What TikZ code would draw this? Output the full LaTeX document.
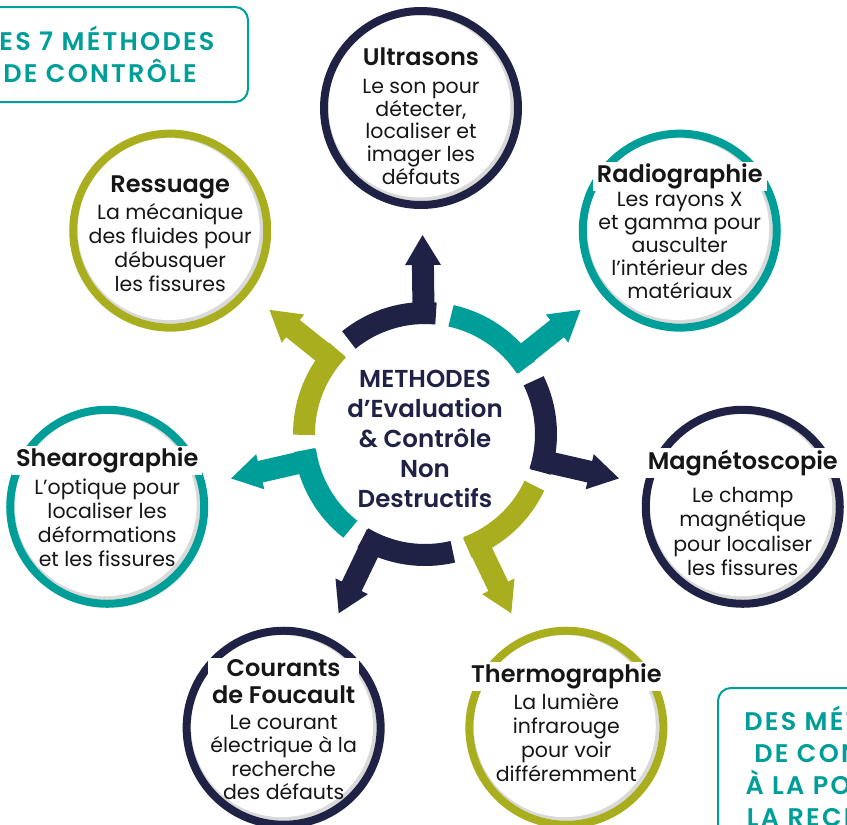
\documentclass[tikz,border=0pt]{standalone}
\usepackage{fontspec}
\setmainfont{Poppins}[BoldFont={Poppins SemiBold}]
\newfontfamily\boxfont{Poppins}[BoldFont={Poppins SemiBold}, LetterSpace=9]
\usepackage{xcolor}
\usetikzlibrary{calc,positioning}
\definecolor{ndnavy}{HTML}{1F2244}
\definecolor{ndteal}{HTML}{009E99}
\definecolor{ndolive}{HTML}{A9AE1F}
\definecolor{ndink}{HTML}{161616}

\begin{document}
\begin{tikzpicture}[x=1pt, y=1pt,
  method/.style={circle, minimum size=194pt, inner sep=0pt, line width=8pt, fill=white, draw=#1,
    path picture={\fill[gray!30] (path picture bounding box.center) circle (93pt);
      \fill[white] ([shift={(-1.6pt,1.6pt)}]path picture bounding box.center) circle (91pt);}},
  mtitle/.style={anchor=base, align=center, fill=white, inner xsep=4pt, inner ysep=2pt, text=ndink,
    font=\fontsize{24}{27}\selectfont\bfseries},
  mbody/.style={anchor=base, align=center, inner sep=0pt, text=ndink, font=\fontsize{20.5}{24}\selectfont},
  seg/.style={line width=22pt},
  hub/.style={align=center, inner sep=0pt, text=ndnavy, font=\fontsize{24.5}{30}\selectfont\bfseries},
  frame/.style={draw=ndteal, line width=2pt, rounded corners=13pt, align=center, text=ndteal,
    font=\boxfont\fontsize{25.5}{32}\selectfont\bfseries}]
\path[use as bounding box, fill=white] (0,0) rectangle (847,-825);
\clip (0,0) rectangle (847,-825);

\coordinate (centre) at (425,-434);

% the seven methods round the ring
\node[method=ndnavy, xshift=-4pt] (us) at ($(centre)+(90:326)$) {}; %
\node[method=ndteal]  (rad)   at ($(centre)+(38.6:326)$)   {}; %
\node[method=ndnavy]  (mag)   at ($(centre)+(-12.9:326)$)  {}; %
\node[method=ndolive] (therm) at ($(centre)+(-64.3:326)$)  {}; %
\node[method=ndnavy]  (cour)  at ($(centre)+(-115.7:326)$) {}; %
\node[method=ndteal]  (shear) at ($(centre)+(-167.1:326)$) {}; %
\node[method=ndolive] (ress)  at ($(centre)+(141.4:326)$)  {}; %

\node[mtitle] (us-t) at ($(us)+(0,43)$) {Ultrasons};
\node[mbody, font=\fontsize{20.5}{22.6}\selectfont] (us-b) at ($(us)+(0,-76)$) {Le son pour\\détecter,\\localiser et\\imager les\\défauts};

\node[mtitle] (rad-t) at ($(rad)+(0,48)$) {Radiographie};
\node[mbody, font=\fontsize{20.5}{23}\selectfont] (rad-b) at ($(rad)+(0,-68)$) {Les rayons X\\et gamma pour\\ausculter\\l’intérieur des\\matériaux};

\node[mtitle] (mag-t) at ($(mag)+(0,37)$) {Magnétoscopie};
\node[mbody, font=\fontsize{20.5}{24.5}\selectfont] (mag-b) at ($(mag)+(0,-69)$) {Le champ\\magnétique\\pour localiser\\les fissures};

\node[mtitle] (therm-t) at ($(therm)+(0,45)$) {Thermographie};
\node[mbody] (therm-b) at ($(therm)+(0,-54)$) {La lumière\\infrarouge\\pour voir\\différemment};

\node[mtitle] (cour-t) at ($(cour)+(0,24)$) {Courants\\de Foucault};
\node[mbody, font=\fontsize{20.5}{23.5}\selectfont] (cour-b) at ($(cour)+(0,-72)$) {Le courant\\électrique à la\\recherche\\des défauts};

\node[mtitle] (shear-t) at ($(shear)+(0,40)$) {Shearographie};
\node[mbody] (shear-b) at ($(shear)+(0,-60)$) {L’optique pour\\localiser les\\déformations\\et les fissures};

\node[mtitle] (ress-t) at ($(ress)+(0,38)$) {Ressuage};
\node[mbody] (ress-b) at ($(ress)+(0,-61)$) {La mécanique\\des fluides pour\\débusquer\\les fissures};

% ring segments, each one turning out into an arrow
\draw[seg, ndnavy] ($(centre)+(84.8:121)$) arc[start angle=84.8, end angle=129, radius=121]; %
\coordinate (us-a) at ($(centre)!169pt!(us)$);
\draw[seg, ndnavy] ($(centre)!111pt!(us)$) -- ($(centre)!175pt!(us)$); %
\fill[ndnavy] ($(centre)!199pt!(us)$) -- ($(us-a)!18pt!90:(us)$) -- ($(us-a)!18pt!-90:(us)$) -- cycle; %

\draw[seg, ndteal] ($(centre)+(33.4:121)$) arc[start angle=33.4, end angle=77.6, radius=121]; %
\coordinate (rad-a) at ($(centre)!169pt!(rad)$);
\draw[seg, ndteal] ($(centre)!111pt!(rad)$) -- ($(centre)!175pt!(rad)$); %
\fill[ndteal] ($(centre)!199pt!(rad)$) -- ($(rad-a)!18pt!90:(rad)$) -- ($(rad-a)!18pt!-90:(rad)$) -- cycle; %

\draw[seg, ndnavy] ($(centre)+(-18.1:121)$) arc[start angle=-18.1, end angle=26.1, radius=121]; %
\coordinate (mag-a) at ($(centre)!169pt!(mag)$);
\draw[seg, ndnavy] ($(centre)!111pt!(mag)$) -- ($(centre)!175pt!(mag)$); %
\fill[ndnavy] ($(centre)!199pt!(mag)$) -- ($(mag-a)!18pt!90:(mag)$) -- ($(mag-a)!18pt!-90:(mag)$) -- cycle; %

\draw[seg, ndolive] ($(centre)+(-69.5:121)$) arc[start angle=-69.5, end angle=-25.3, radius=121]; %
\coordinate (therm-a) at ($(centre)!169pt!(therm)$);
\draw[seg, ndolive] ($(centre)!111pt!(therm)$) -- ($(centre)!175pt!(therm)$); %
\fill[ndolive] ($(centre)!199pt!(therm)$) -- ($(therm-a)!18pt!90:(therm)$) -- ($(therm-a)!18pt!-90:(therm)$) -- cycle; %

\draw[seg, ndnavy] ($(centre)+(-120.9:121)$) arc[start angle=-120.9, end angle=-76.7, radius=121]; %
\coordinate (cour-a) at ($(centre)!169pt!(cour)$);
\draw[seg, ndnavy] ($(centre)!111pt!(cour)$) -- ($(centre)!175pt!(cour)$); %
\fill[ndnavy] ($(centre)!199pt!(cour)$) -- ($(cour-a)!18pt!90:(cour)$) -- ($(cour-a)!18pt!-90:(cour)$) -- cycle; %

\draw[seg, ndteal] ($(centre)+(187.7:121)$) arc[start angle=187.7, end angle=231.9, radius=121]; %
\coordinate (shear-a) at ($(centre)!169pt!(shear)$);
\draw[seg, ndteal] ($(centre)!111pt!(shear)$) -- ($(centre)!175pt!(shear)$); %
\fill[ndteal] ($(centre)!199pt!(shear)$) -- ($(shear-a)!18pt!90:(shear)$) -- ($(shear-a)!18pt!-90:(shear)$) -- cycle; %

\draw[seg, ndolive] ($(centre)+(136.2:121)$) arc[start angle=136.2, end angle=180.4, radius=121]; %
\coordinate (ress-a) at ($(centre)!169pt!(ress)$);
\draw[seg, ndolive] ($(centre)!111pt!(ress)$) -- ($(centre)!175pt!(ress)$); %
\fill[ndolive] ($(centre)!199pt!(ress)$) -- ($(ress-a)!18pt!90:(ress)$) -- ($(ress-a)!18pt!-90:(ress)$) -- cycle; %

\node[hub] (hub) at ($(centre)+(0,-5)$) {METHODES\\d’Evaluation\\\& Contrôle\\Non\\Destructifs};

% corner boxes, cut by the page edge
\node[frame, minimum width=296pt, minimum height=95pt] (topbox) at (100,-54.5) {LES 7 MÉTHODES\\DE CONTRÔLE};
\node[frame, minimum width=266pt, minimum height=157pt] (botbox) at (851,-766.5) {DES MÉTHODES\\DE CONTRÔLE\\À LA POINTE DE\\LA RECHERCHE};
\end{tikzpicture}
\end{document}
